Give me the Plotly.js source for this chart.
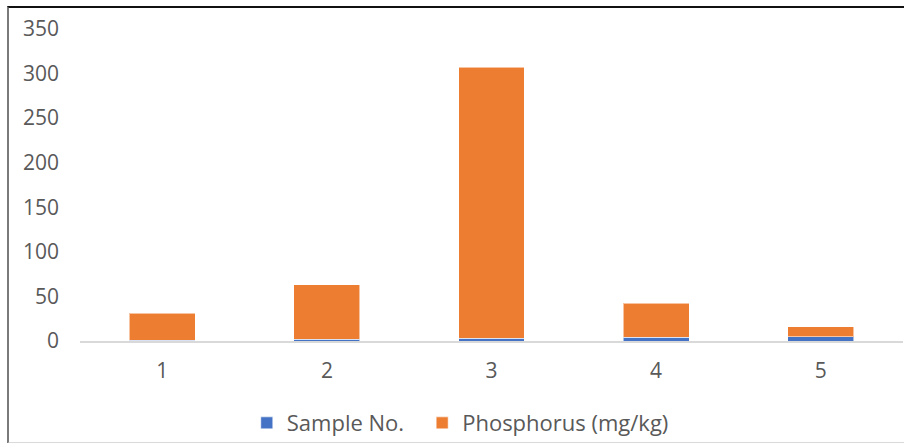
<!DOCTYPE html>
<html>
<head>
<meta charset="utf-8">
<script src="https://cdn.plot.ly/plotly-3.0.1.min.js"></script>
<style>
  html, body { margin: 0; padding: 0; background: #fff; }
  #wrap { position: relative; width: 904px; height: 443px; overflow: hidden; }
  #chart { position: absolute; left: 0; top: 0; width: 904px; height: 443px; }
  #frame {
    position: absolute; left: 7px; top: 6px; width: 910px; height: 434px;
    border-top: 2px solid #111; border-left: 2px solid #7a7a7a; border-bottom: 2px solid #d9d9d9;
    pointer-events: none;
  }
</style>
</head>
<body>
<div id="wrap">
  <div id="chart"></div>
  <div id="frame"></div>
</div>
<script>
// Samples along the x axis
const categories = ['1', '2', '3', '4', '5'];
// Sample number series (stacked at the bottom)
const sampleNo = [1, 2, 3, 4, 5];
// Phosphorus content in mg/kg (stacked on top)
const phosphorus = [30.4, 61.2, 304.3, 38.6, 10.8];
const yTicks = [0, 50, 100, 150, 200, 250, 300, 350];

const font = 'Open Sans, Segoe UI, Calibri, sans-serif';
const outline = { color: 'rgba(255,255,255,0.55)', width: 1 };

const traces = [
  { type: 'bar', name: 'Sample No.', x: categories, y: sampleNo, legend: 'legend',
    marker: { color: '#4472C4', line: outline } },
  { type: 'bar', name: 'Phosphorus (mg/kg)', x: categories, y: phosphorus, legend: 'legend2',
    marker: { color: '#ED7D31', line: outline } }
];

// One legend box per series so the two entries can be spaced freely
const legendBase = {
  orientation: 'h', xref: 'container', yref: 'container',
  xanchor: 'left', y: 0.045, yanchor: 'middle',
  font: { family: font, size: 22, color: '#595959' },
  itemwidth: 30, bgcolor: 'rgba(0,0,0,0)'
};

const layout = {
  width: 904, height: 443,
  margin: { l: 80, r: 1, t: 29, b: 102 },
  paper_bgcolor: '#fff', plot_bgcolor: '#fff',
  barmode: 'stack', bargap: 0.6,
  font: { family: font, color: '#595959', size: 21 },
  xaxis: {
    type: 'category', showgrid: false, zeroline: false,
    showline: true, linecolor: '#d9d9d9', linewidth: 2,
    ticks: '', ticklabelstandoff: 10,
    tickfont: { family: font, size: 21, color: '#595959' }
  },
  yaxis: {
    range: [0, 350], tickvals: yTicks, ticktext: yTicks.map(String),
    showgrid: false, zeroline: false, showline: false, ticks: '',
    ticklabelstandoff: 20,
    tickfont: { family: font, size: 21, color: '#595959' }
  },
  showlegend: true,
  legend: Object.assign({}, legendBase, { x: 0.273 }),
  legend2: Object.assign({}, legendBase, { x: 0.467 })
};

Plotly.newPlot('chart', traces, layout, { displayModeBar: false, staticPlot: true });
</script>
</body>
</html>
